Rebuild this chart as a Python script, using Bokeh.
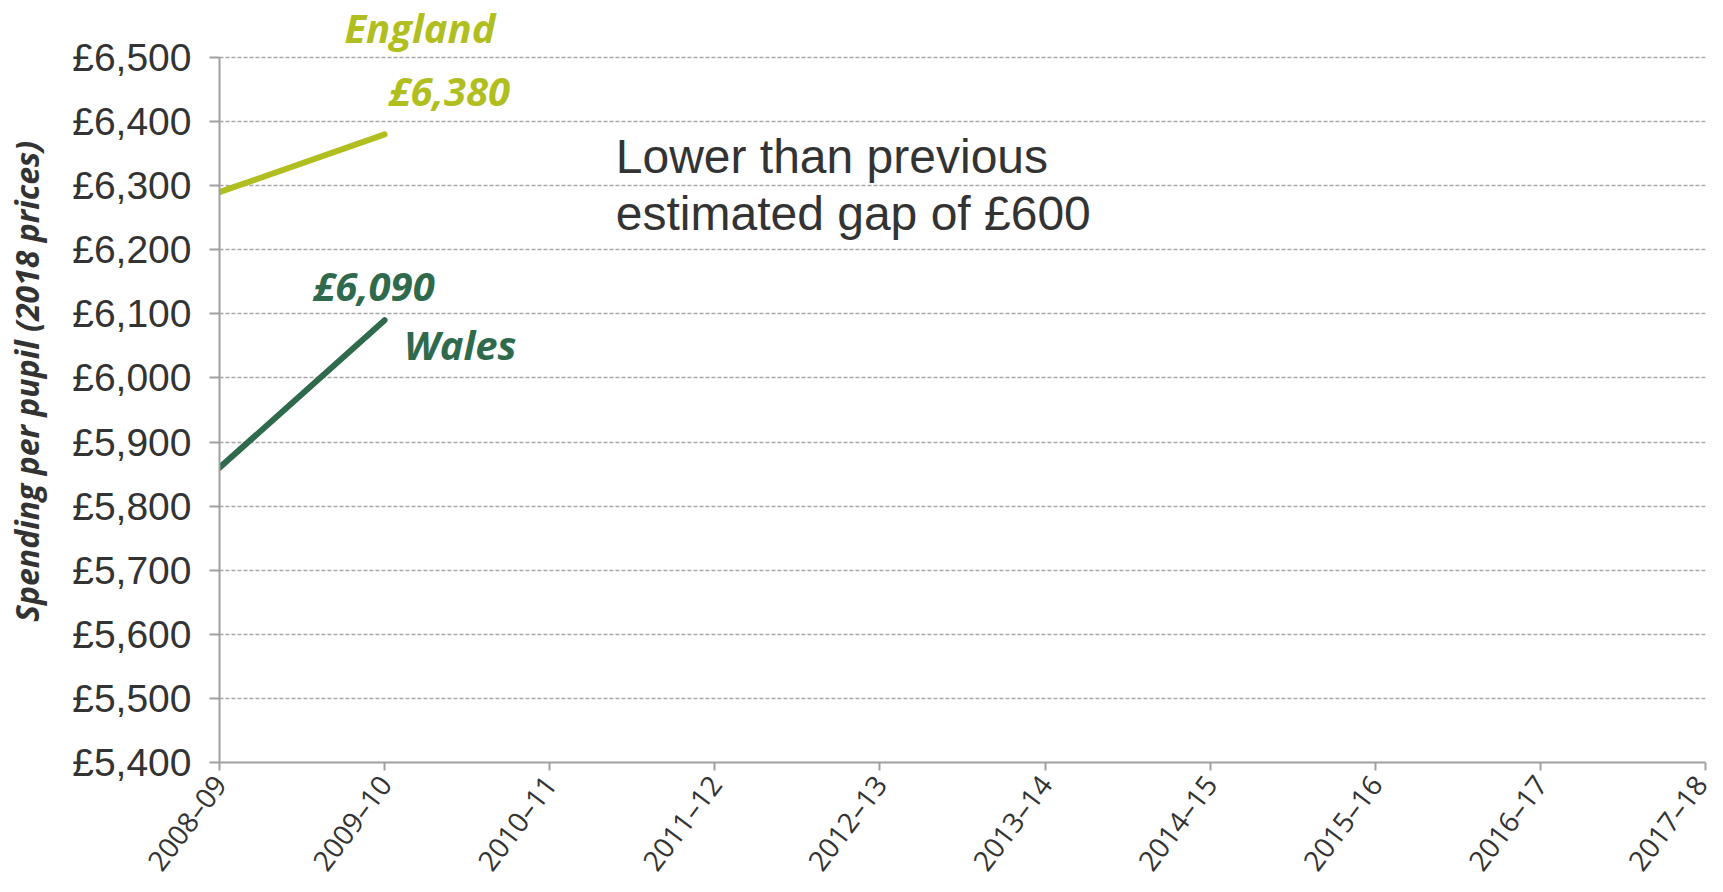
import math
from bokeh.plotting import figure
from bokeh.models import Range1d, FixedTicker, Label
from bokeh.embed import file_html
from bokeh.resources import INLINE

# ---- data ----
years = ["2008–09", "2009–10", "2010–11", "2011–12", "2012–13",
         "2013–14", "2014–15", "2015–16", "2016–17", "2017–18"]
england = [6290, 6380]
wales = [5860, 6090]
y_ticks = [5400, 5500, 5600, 5700, 5800, 5900, 6000, 6100, 6200, 6300, 6400, 6500]
y_tick_labels = ["£5,400", "£5,500", "£5,600", "£5,700", "£5,800", "£5,900",
                 "£6,000", "£6,100", "£6,200", "£6,300", "£6,400", "£6,500"]
england_end_label = "£6,380"
wales_end_label = "£6,090"
note_lines = ["Lower than previous", "estimated gap of £600"]
y_title = "Spending per pupil (2018 prices)"

ENG = "#b0be20"
WAL = "#2f6a4d"
TXT = "#333333"
AX = "#a0a0a0"

p = figure(width=1715, height=892, output_backend="svg", toolbar_location=None,
           x_range=Range1d(0, len(years) - 1), y_range=Range1d(y_ticks[0], 6589),
           min_border_left=219, min_border_right=10, min_border_top=0, min_border_bottom=130)
p.outline_line_color = None
p.background_fill_color = "white"
p.border_fill_color = "white"

xi = list(range(len(years)))
p.line(xi[:len(england)], england, line_color=ENG, line_width=6, line_cap="round")
p.line(xi[:len(wales)], wales, line_color=WAL, line_width=6, line_cap="round")

# axes
xa = p.xaxis[0]
xa.ticker = FixedTicker(ticks=xi)
xa.major_label_overrides = {i: y for i, y in zip(xi, years)}
xa.major_label_orientation = math.radians(53)
xa.major_label_text_font = "Open Sans"
xa.major_label_text_font_size = "28px"
xa.major_label_text_color = TXT
xa.axis_line_color = AX
xa.axis_line_width = 2
xa.major_tick_line_color = AX
xa.major_tick_line_width = 2
xa.major_tick_in = 0
xa.major_tick_out = 8
xa.minor_tick_line_color = None
xa.major_label_standoff = 8

ya = p.yaxis[0]
ya.ticker = FixedTicker(ticks=y_ticks)
ya.bounds = (y_ticks[0], y_ticks[-1])
ya.major_label_overrides = {v: s for v, s in zip(y_ticks, y_tick_labels)}
ya.major_label_text_font = "Liberation Sans"
ya.major_label_text_font_size = "39px"
ya.major_label_text_color = TXT
ya.axis_line_color = AX
ya.axis_line_width = 2
ya.major_tick_line_color = AX
ya.major_tick_line_width = 2
ya.major_tick_in = 0
ya.major_tick_out = 10
ya.minor_tick_line_color = None
ya.major_label_standoff = 18
ya.axis_label = y_title
ya.axis_label_text_font = "Open Sans"
ya.axis_label_text_font_style = "bold italic"
ya.axis_label_text_font_size = "32px"
ya.axis_label_text_color = TXT
ya.axis_label_standoff = 21

p.xgrid.grid_line_color = None
p.ygrid.ticker = FixedTicker(ticks=y_ticks[1:])
p.ygrid.grid_line_color = "#a6a6a6"
p.ygrid.grid_line_width = 1.5
p.ygrid.grid_line_dash = "4 2"

# labels
def lab(x, y, text, color, size, font="Open Sans", style="bold italic", align="center"):
    p.add_layout(Label(x=x, y=y, text=text, text_color=color, text_font=font,
                       text_font_size=size, text_font_style=style, text_align=align,
                       text_baseline="alphabetic"))

lab(1.214, 6547, "England", ENG, "40px")
lab(1.392, 6449, england_end_label, ENG, "40px")
lab(0.935, 6145, wales_end_label, WAL, "40px")
lab(1.458, 6052, "Wales", WAL, "40px")
lab(2.40, 6345, note_lines[0], TXT, "48px", font="Liberation Sans", style="normal", align="left")
lab(2.40, 6257, note_lines[1], TXT, "48px", font="Liberation Sans", style="normal", align="left")

open("out.html", "w").write(file_html(p, INLINE))
